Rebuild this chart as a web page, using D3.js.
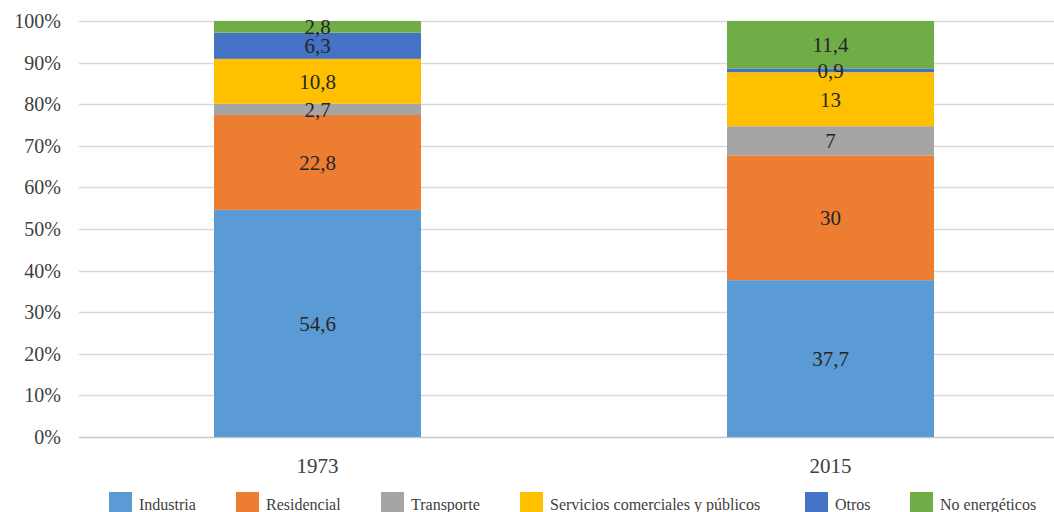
<!DOCTYPE html>
<html>
<head>
<meta charset="utf-8">
<script src="https://cdn.jsdelivr.net/npm/d3@7"></script>
<style>
  body { margin: 0; background: #fff; }
  svg text { font-family: "Liberation Serif", "DejaVu Serif", serif; }
</style>
</head>
<body>
<div id="chart"></div>
<script>
// data
var years = ["1973", "2015"];
var sectors = ["Industria", "Residencial", "Transporte", "Servicios comerciales y públicos", "Otros", "No energéticos"];
var values1973 = [54.6, 22.8, 2.7, 10.8, 6.3, 2.8];
var values2015 = [37.7, 30, 7, 13, 0.9, 11.4];
var colors = ["#5B9BD5", "#ED7D31", "#A5A5A5", "#FFC000", "#4472C4", "#70AD47"];
var yTicks = [0, 10, 20, 30, 40, 50, 60, 70, 80, 90, 100];

var svgWidth = 1054, svgHeight = 512;

var svg = d3.select("#chart")
  .append("svg")
  .attr("width", svgWidth)
  .attr("height", svgHeight);

// build rows for stacking
var rows = years.map(function(y, i) {
  var vals = i === 0 ? values1973 : values2015;
  var row = { year: y };
  sectors.forEach(function(s, j) { row[s] = vals[j]; });
  return row;
});

var stacked = d3.stack().keys(sectors)(rows);

var yScale = d3.scaleLinear().domain([0, 100]).range([437, 21]);
var xScale = d3.scalePoint().domain(years).range([61, 1087]).padding(0.5);
var barWidth = 207;

// gridlines
svg.append("g")
  .selectAll("line")
  .data(yTicks)
  .enter()
  .append("line")
  .attr("x1", 79)
  .attr("x2", svgWidth)
  .attr("y1", d => Math.round(yScale(d)) + 0.5)
  .attr("y2", d => Math.round(yScale(d)) + 0.5)
  .attr("stroke", d => d === 0 ? "#c8c8c8" : "#d9d9d9")
  .attr("stroke-width", 1.5);

// y axis labels
var leftAxis = d3.axisLeft(yScale).tickValues(yTicks).tickFormat(d => d + "%").tickSize(0).tickPadding(0);
var yAxis = svg.append("g")
  .attr("transform", "translate(61,0)")
  .call(leftAxis);
yAxis.select(".domain").remove();
yAxis.selectAll("text")
  .style("font-size", "20px")
  .attr("fill", "#404040")
  .attr("dy", "0.32em");

// bars
var layers = svg.append("g")
  .selectAll("g")
  .data(stacked)
  .enter()
  .append("g")
  .attr("fill", (d, i) => colors[i]);

layers.selectAll("rect")
  .data(d => d)
  .enter()
  .append("rect")
  .attr("x", d => xScale(d.data.year) - barWidth / 2)
  .attr("y", d => yScale(d[1]))
  .attr("width", barWidth)
  .attr("height", d => yScale(d[0]) - yScale(d[1]));

// data labels, drawn on top of all bars
var labelGroups = svg.append("g")
  .selectAll("g")
  .data(stacked)
  .enter()
  .append("g");

labelGroups.selectAll("text")
  .data(d => d)
  .enter()
  .append("text")
  .attr("x", d => xScale(d.data.year))
  .attr("y", d => yScale((d[0] + d[1]) / 2))
  .attr("dy", "0.35em")
  .attr("text-anchor", "middle")
  .style("font-size", "21px")
  .attr("fill", "#262626")
  .text(d => String(+(d[1] - d[0]).toFixed(1)).replace(".", ","));

// x axis labels
svg.append("g")
  .selectAll("text")
  .data(years)
  .enter()
  .append("text")
  .attr("x", d => xScale(d))
  .attr("y", 473)
  .attr("text-anchor", "middle")
  .style("font-size", "21px")
  .attr("fill", "#404040")
  .text(d => d);

// legend
var legendX = [109, 236, 381, 520, 805, 910];
var legend = svg.append("g")
  .selectAll("g")
  .data(sectors)
  .enter()
  .append("g")
  .attr("transform", (d, i) => `translate(${legendX[i]}, 492)`);

legend.append("rect")
  .attr("width", 23)
  .attr("height", 23)
  .attr("fill", (d, i) => colors[i]);

legend.append("text")
  .attr("x", 30)
  .attr("y", 18)
  .style("font-size", "16px")
  .attr("fill", "#404040")
  .text(d => d);
</script>
</body>
</html>
